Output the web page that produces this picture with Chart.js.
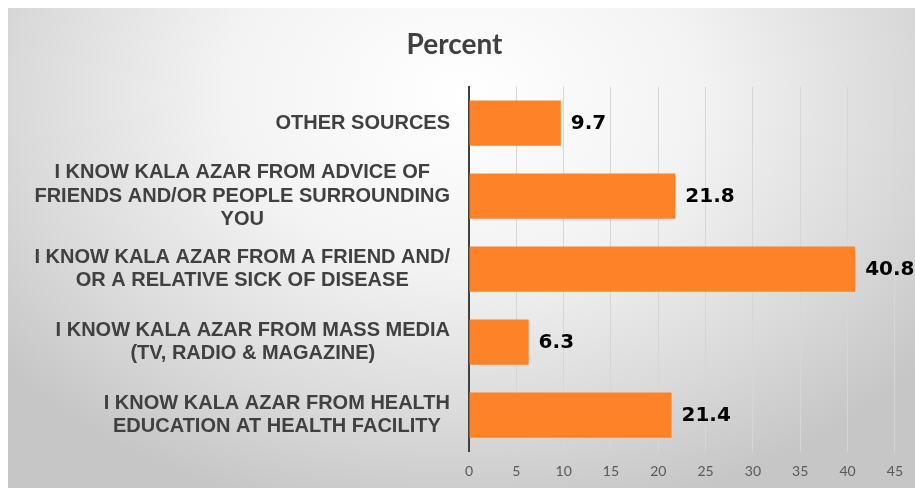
<!DOCTYPE html>
<html>
<head>
<meta charset="utf-8">
<title>Percent</title>
<script src="https://cdn.jsdelivr.net/npm/chart.js@4"></script>
<style>
  html, body { margin: 0; padding: 0; background: #ffffff; }
  #wrap {
    position: absolute; left: 8px; top: 8px; width: 907px; height: 480px;
    background: radial-gradient(ellipse 65% 90% at 50% 18%, #ffffff 0%, #f3f3f3 40%, #dadada 75%, #c6c6c6 100%);
  }
  canvas { display: block; }
</style>
</head>
<body>
<div id="wrap"><canvas id="barchart" width="907" height="480"></canvas></div>
<script>
// Category labels (top to bottom), each split into its printed lines
const categories = [
  ["OTHER SOURCES"],
  ["I KNOW KALA AZAR FROM ADVICE OF", "FRIENDS AND/OR PEOPLE SURROUNDING", "YOU"],
  ["I KNOW KALA AZAR FROM A FRIEND AND/", "OR A RELATIVE SICK OF DISEASE"],
  ["I KNOW KALA AZAR FROM MASS MEDIA", "(TV, RADIO & MAGAZINE)"],
  ["I KNOW KALA AZAR FROM HEALTH", "EDUCATION AT HEALTH FACILITY"],
];
const percentValues = [9.7, 21.8, 40.8, 6.3, 21.4];
const xTickMin = 0;
const xTickMax = 45;
const xTickStep = 5;

// draws the category text: each block right-aligned, lines centred inside it
const categoryLabels = {
  id: "categoryLabels",
  afterDraw(chart) {
    const ctx = chart.ctx;
    const yScale = chart.scales.y;
    const right = chart.chartArea.left - 19;
    const lineHeight = 23.5;
    ctx.save();
    ctx.font = "bold 20px 'Liberation Sans', Arial, sans-serif";
    ctx.fillStyle = "#404040";
    ctx.textAlign = "center";
    ctx.textBaseline = "middle";
    categories.forEach((lines, i) => {
      const yc = yScale.getPixelForValue(i);
      const w = Math.max(...lines.map((l) => ctx.measureText(l).width));
      const xc = right - w / 2;
      lines.forEach((line, j) => {
        ctx.fillText(line, xc, yc + (j - (lines.length - 1) / 2) * lineHeight);
      });
    });
    ctx.restore();
  },
};

// value labels at the end of each bar
const valueLabels = {
  id: "valueLabels",
  afterDatasetsDraw(chart) {
    const ctx = chart.ctx;
    const meta = chart.getDatasetMeta(0);
    ctx.save();
    ctx.font = "bold 20px 'DejaVu Sans', sans-serif";
    ctx.fillStyle = "#000000";
    ctx.textAlign = "left";
    ctx.textBaseline = "middle";
    meta.data.forEach((bar, i) => {
      ctx.fillText(percentValues[i].toFixed(1), bar.x + 10, bar.y + 1);
    });
    ctx.restore();
  },
};

const ctx = document.getElementById("barchart").getContext("2d");

new Chart(ctx, {
  type: "bar",
  data: {
    labels: categories,
    datasets: [
      {
        label: "Percent",
        data: percentValues,
        backgroundColor: "#fd8228",
        borderWidth: 0,
        barPercentage: 0.62,
        categoryPercentage: 1,
      },
    ],
  },
  options: {
    indexAxis: "y",
    responsive: false,
    animation: false,
    devicePixelRatio: 1,
    layout: { padding: { left: 0, right: 14, top: 0, bottom: 0 } },
    plugins: {
      legend: { display: false },
      tooltip: { enabled: false },
      title: {
        display: true,
        text: "Percent",
        color: "#404040",
        font: { family: "Lato", size: 28, weight: "bold" },
        padding: { top: 20, bottom: 25 },
      },
    },
    scales: {
      x: {
        min: xTickMin,
        max: xTickMax,
        ticks: {
          stepSize: xTickStep,
          color: "#595959",
          font: { family: "Lato", size: 14 },
          padding: 12,
        },
        grid: { color: "#d6d6d6", lineWidth: 1, drawTicks: false },
        border: { display: false },
        afterFit(scale) {
          scale.height = 36.5;
        },
      },
      y: {
        ticks: { display: false },
        grid: { display: false },
        border: { display: true, color: "#404040", width: 2 },
        afterFit(scale) {
          scale.width = 461;
        },
      },
    },
  },
  plugins: [categoryLabels, valueLabels],
});
</script>
</body>
</html>
